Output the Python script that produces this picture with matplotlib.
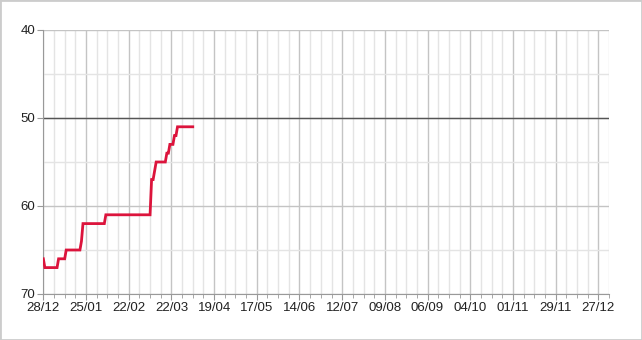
"""Step-like ranking line over one year, inverted y axis."""
import numpy as np
import pandas as pd
import matplotlib
matplotlib.use("Agg")
import matplotlib.pyplot as plt
import matplotlib.dates as mdates

plt.rcParams["font.family"] = ["Liberation Sans", "DejaVu Sans"]

# Data: vertices of the line (day offset from 28/12, value)
START = pd.Timestamp("2014-12-28")
day_offsets = [0, 1, 9, 10, 14, 15, 24, 25, 26, 40, 41, 70, 71, 72, 74,
               80, 81, 82, 83, 85, 86, 87, 88, 98]
values = [66, 67, 67, 66, 66, 65, 65, 64, 62, 62, 61, 61, 57, 57, 55,
          55, 54, 54, 53, 53, 52, 52, 51, 51]
dates = [START + pd.Timedelta(days=d) for d in day_offsets]

y_ticks = [40, 50, 60, 70]
y_minor = [45, 55, 65]
REF = 50

RED = "#dc143c"
MAJ = "#c4c4c4"
MIN = "#e4e4e4"

fig = plt.figure(figsize=(6.42, 3.40), dpi=100)
ax = fig.add_axes([0.0675, 0.1353, 0.8811, 0.7765])

major = pd.date_range(START, periods=14, freq="28D")
minor = pd.date_range(START, periods=54, freq="7D")
ax.set_xticks(major)
ax.set_xticks(minor, minor=True)
ax.xaxis.set_major_formatter(mdates.DateFormatter("%d/%m"))
ax.set_xlim(START, START + pd.Timedelta(days=371))

ax.set_yticks(y_ticks)
ax.set_yticks(y_minor, minor=True)
ax.set_ylim(70, 40)

ax.grid(True, which="major", color=MAJ, lw=1.0, zorder=0)
ax.grid(True, which="minor", color=MIN, lw=1.0, zorder=0)
ax.axhline(REF, color="#555555", lw=1.0, zorder=2)

ax.plot(dates, values, color=RED, lw=2.0, zorder=3, solid_joinstyle="miter")

for s in ["top", "right"]:
    ax.spines[s].set_visible(False)
for s in ["left", "bottom"]:
    ax.spines[s].set_color("#999999")
ax.tick_params(which="major", length=4, color="#999999", labelsize=9.5,
               labelcolor="#222222", pad=2)
ax.tick_params(which="minor", length=3, color="#999999")
ax.tick_params(axis="y", which="minor", length=0)

fig.patches.append(plt.Rectangle((0, 0), 1, 1, transform=fig.transFigure,
                                 fill=False, edgecolor="#cccccc", lw=2))
fig.savefig("out.png", dpi=100)
